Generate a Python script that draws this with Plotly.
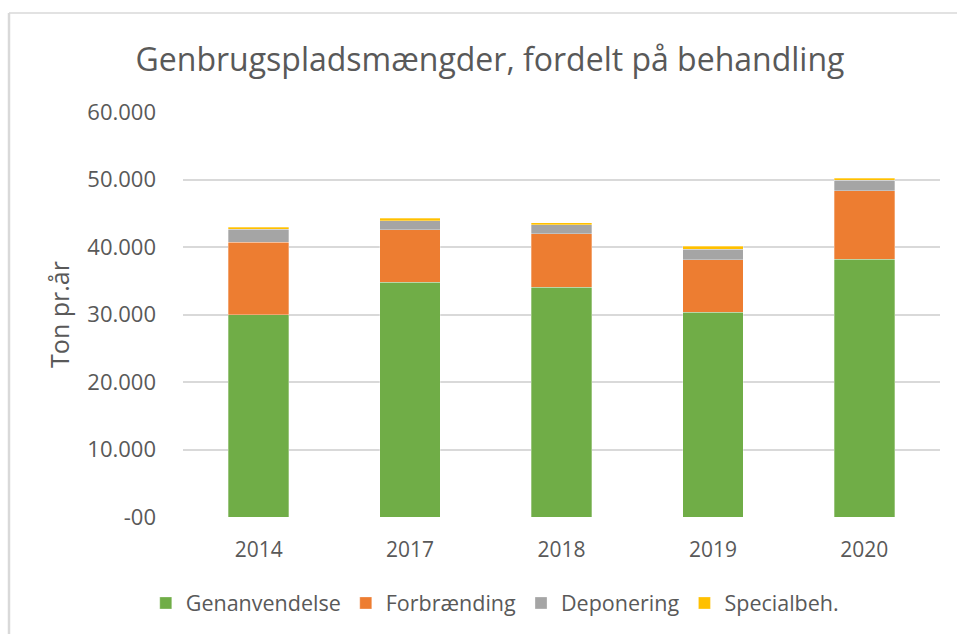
import plotly.graph_objects as go

years = ["2014", "2017", "2018", "2019", "2020"]
genanvendelse = [30000, 34770, 34070, 30320, 38170]
forbraending = [10740, 7790, 7900, 7800, 10130]
deponering = [1880, 1340, 1330, 1580, 1580]
specialbeh = [340, 350, 260, 400, 340]

series = [
    ("Genanvendelse", genanvendelse, "#70AD47"),
    ("Forbrænding", forbraending, "#ED7D31"),
    ("Deponering", deponering, "#A5A5A5"),
    ("Specialbeh.", specialbeh, "#FFC000"),
]

tick_vals = [0, 10000, 20000, 30000, 40000, 50000, 60000]
tick_text = ["-00", "10.000", "20.000", "30.000", "40.000", "50.000", "60.000"]

FONT = "Open Sans"
GREY = "#595959"

fig = go.Figure()
for name, vals, col in series:
    fig.add_trace(go.Bar(
        x=years, y=vals, name=name,
        marker=dict(color=col, line=dict(color="rgba(255,255,255,0.5)", width=0.6)),
    ))

W, H = 957, 634
L, R, T, B = 183, 17, 112, 117
pw, ph = W - L - R, H - T - B

def px(x):
    return (x - L) / pw

def py(y):
    return 1 - (y - T) / ph

fig.update_layout(
    width=W, height=H,
    barmode="stack", bargap=0.6,
    margin=dict(l=L, r=R, t=T, b=B),
    paper_bgcolor="white", plot_bgcolor="white",
    font=dict(family=FONT, color=GREY),
    title=dict(text="Genbrugspladsmængder, fordelt på behandling",
               x=0.512, xanchor="center", xref="container",
               y=1 - 60 / H, yanchor="middle", yref="container",
               font=dict(size=32, color=GREY, family=FONT)),
    showlegend=True,
    legend=dict(orientation="h", x=0.517, xanchor="center", xref="container",
                y=1 - 603 / H, yanchor="middle", yref="container",
                font=dict(size=21.5, color=GREY), traceorder="normal",
                itemwidth=30),
    xaxis=dict(tickfont=dict(size=21, color=GREY), showline=False, ticks="",
               ticklabelstandoff=18),
    yaxis=dict(range=[0, 60000], tickvals=tick_vals, ticktext=tick_text,
               tickfont=dict(size=22, color=GREY), gridcolor="#D9D9D9", gridwidth=1.5,
               zeroline=False, ticks="", ticklabelstandoff=26,
               title=dict(text="Ton pr.år", font=dict(size=25, color=GREY), standoff=10)),
    shapes=[
        dict(type="line", xref="paper", yref="paper", x0=px(9), x1=px(957), y0=py(13), y1=py(13),
             line=dict(color="#D9D9D9", width=1.5)),
        dict(type="line", xref="paper", yref="paper", x0=px(9), x1=px(9), y0=py(13), y1=py(634),
             line=dict(color="#D9D9D9", width=2.5)),
    ],
)

fig.write_html("out.html", config={"displayModeBar": False},
               post_script="document.body.style.margin='0';")
